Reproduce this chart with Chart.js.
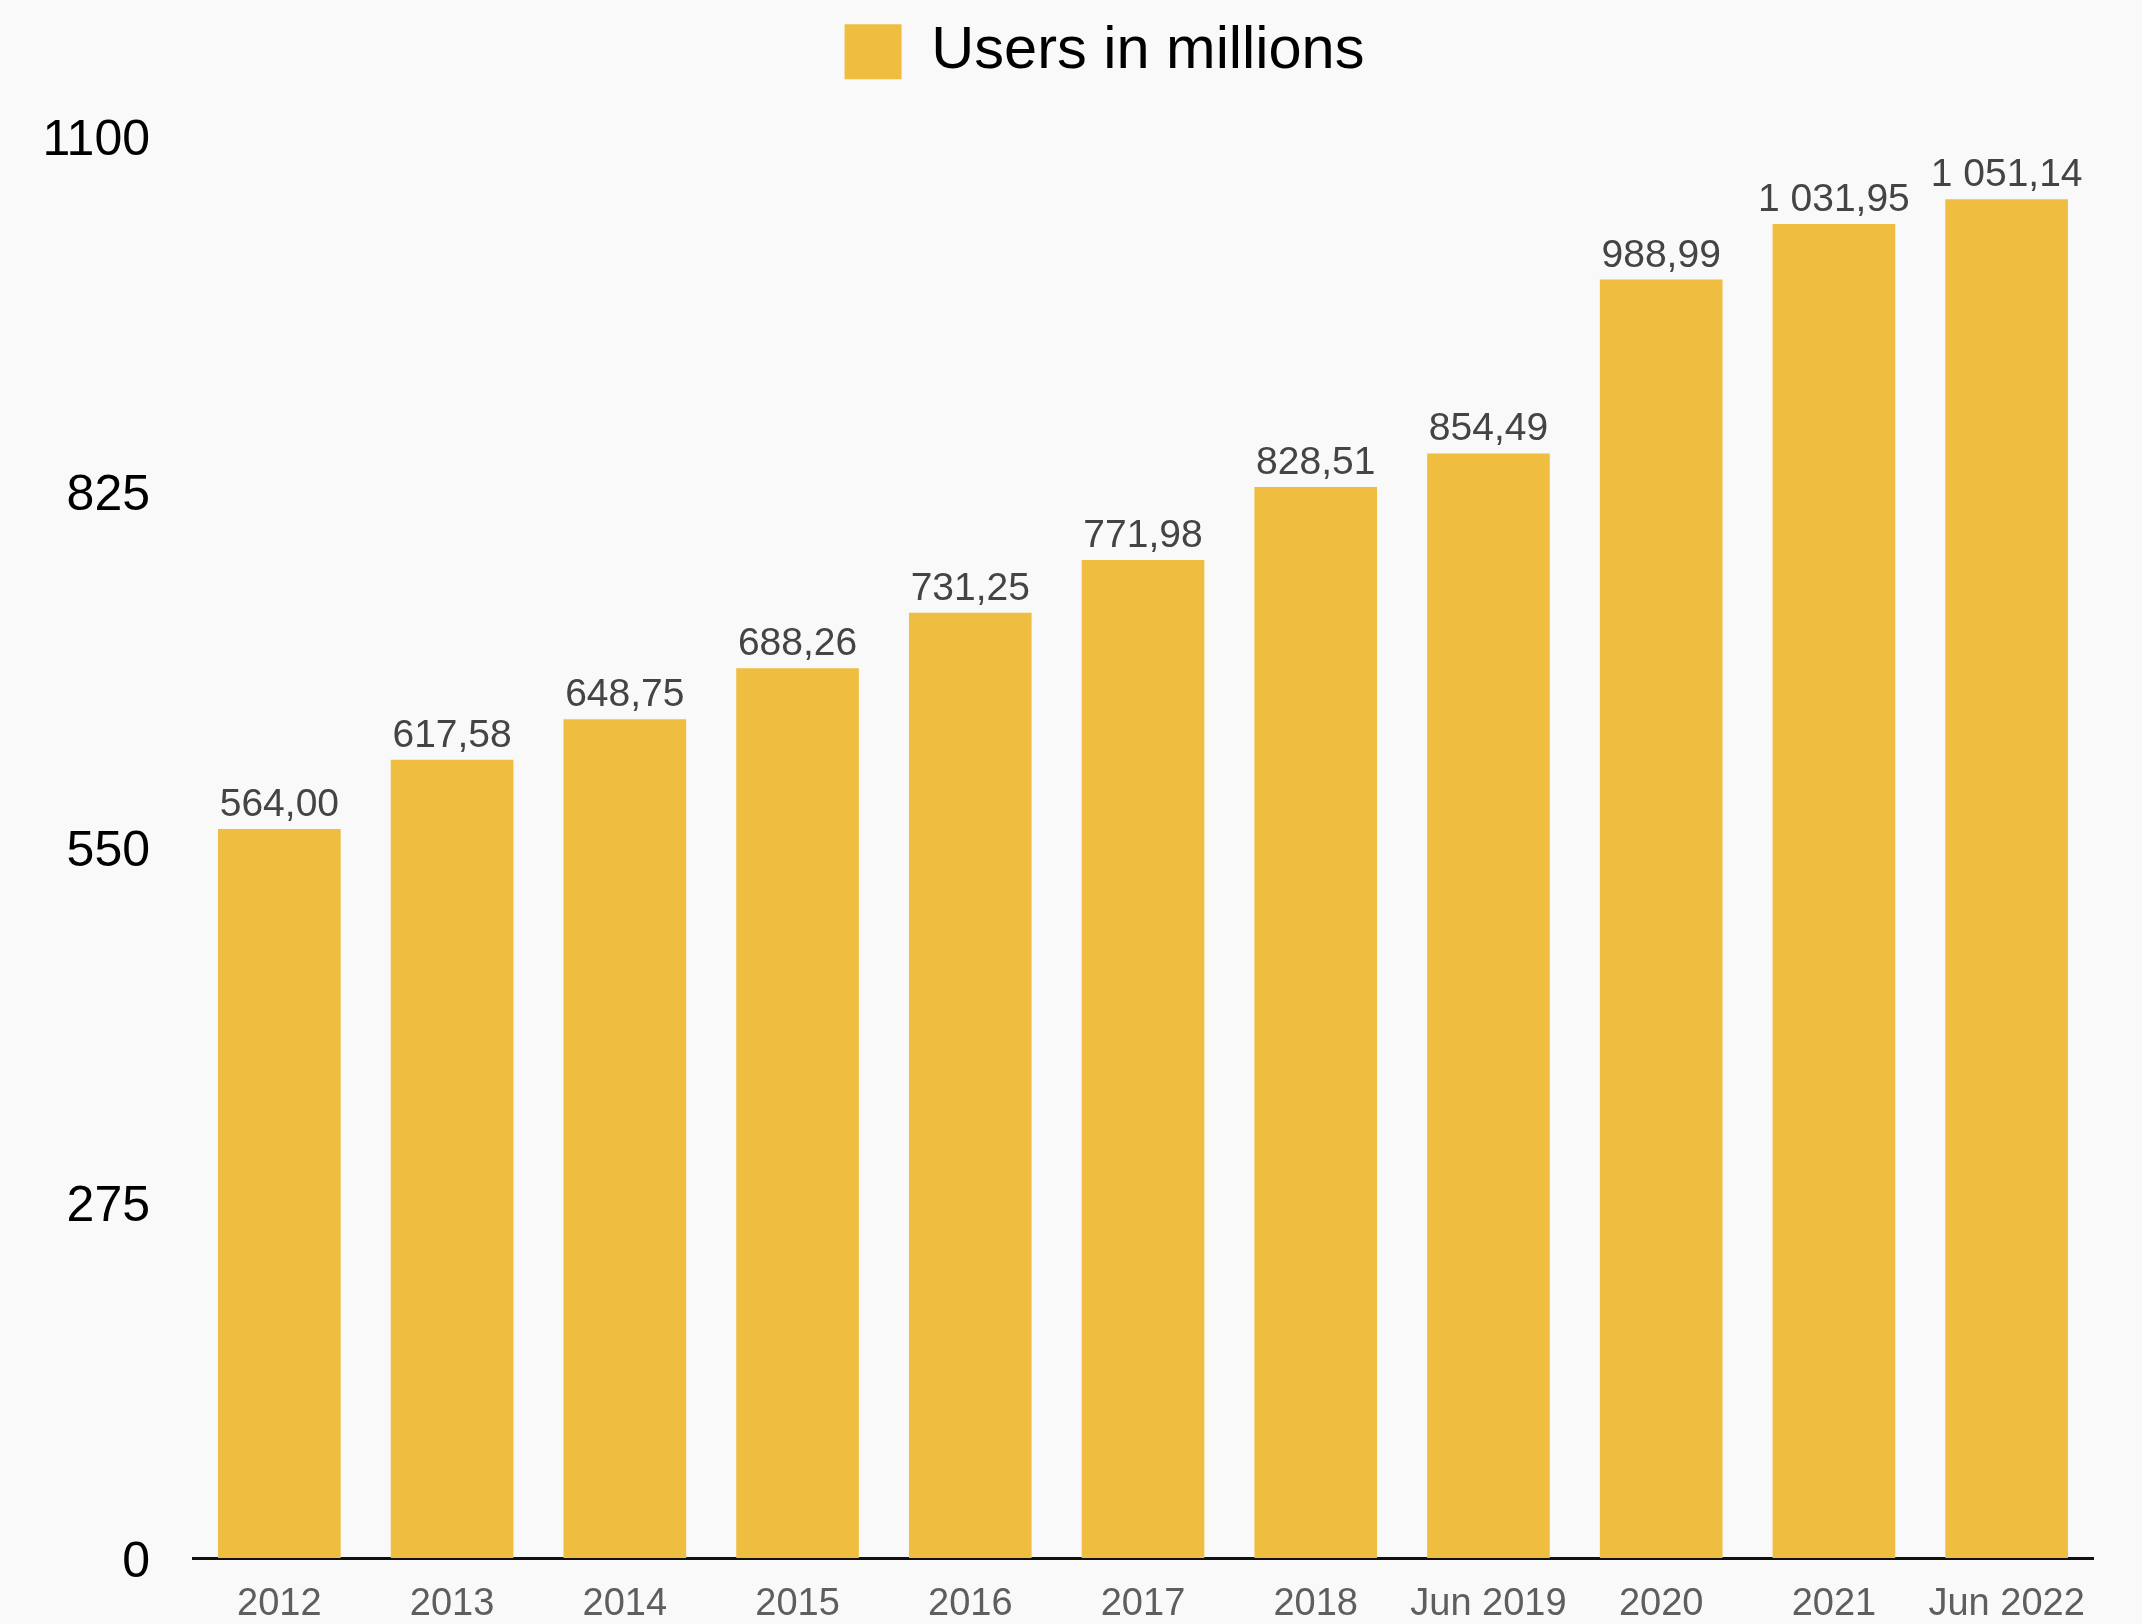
<!DOCTYPE html>
<html>
<head>
<meta charset="utf-8">
<script src="https://cdn.jsdelivr.net/npm/chart.js@4/dist/chart.umd.min.js"></script>
<style>
  html, body { margin: 0; padding: 0; background: #f9f9f9; }
  #wrap { width: 2142px; height: 1624px; }
</style>
</head>
<body>
<div id="wrap"><canvas id="users-chart"></canvas></div>
<script>
const years = ['2012', '2013', '2014', '2015', '2016', '2017', '2018', 'Jun 2019', '2020', '2021', 'Jun 2022'];
const users = [564.00, 617.58, 648.75, 688.26, 731.25, 771.98, 828.51, 854.49, 988.99, 1031.95, 1051.14];
const yTicks = [0, 275, 550, 825, 1100];

const barColor = 'rgb(239, 190, 65)';

// 1031.95 -> "1 031,95"
function formatValue(v) {
    let parts = v.toFixed(2).split('.');
    let whole = parts[0].replace(/\B(?=(\d{3})+(?!\d))/g, ' ');
    return whole + ',' + parts[1];
}

// legend block: fixed height, and nudged right so it sits over the bars
const legendPlace = {
    id: 'legendPlace',
    beforeInit(chart) {
        let fit = chart.legend.fit;
        chart.legend.fit = function () {
            fit.call(this);
            this.height = 136;
        };
    },
    afterLayout(chart) {
        chart.legend.left += 58;
        chart.legend.right += 58;
        chart.legend.top += 2;
    }
};

// value text above each bar
const barValues = {
    id: 'barValues',
    afterDatasetsDraw(chart) {
        let ctx = chart.ctx;
        let meta = chart.getDatasetMeta(0);
        ctx.save();
        ctx.font = '39px "Liberation Sans", Arial, sans-serif';
        ctx.fillStyle = '#444444';
        ctx.textAlign = 'center';
        ctx.textBaseline = 'alphabetic';
        meta.data.forEach((bar, i) => {
            ctx.fillText(formatValue(users[i]), bar.x, bar.y - 13);
        });
        ctx.restore();
    }
};

Chart.defaults.font.family = '"Liberation Sans", Arial, sans-serif';

new Chart(document.querySelector('#users-chart').getContext('2d'), {
    type: 'bar',
    data: {
        labels: years,
        datasets: [{
            label: 'Users in millions',
            backgroundColor: barColor,
            borderWidth: 0,
            data: users,
            categoryPercentage: 1,
            barPercentage: 0.71
        }]
    },
    options: {
        responsive: true,
        maintainAspectRatio: false,
        animation: false,
        layout: { padding: { left: 0, right: 49, top: 0, bottom: 0 } },
        plugins: {
            tooltip: { enabled: false },
            legend: {
                position: 'top',
                labels: {
                    boxWidth: 57,
                    boxHeight: 55,
                    padding: 20,
                    color: '#000000',
                    font: { size: 59.5 }
                }
            }
        },
        scales: {
            x: {
                grid: { display: false, drawTicks: false },
                border: { display: true, color: '#111111', width: 3 },
                ticks: {
                    color: '#5e5e5e',
                    font: { size: 38 },
                    padding: 24,
                    maxRotation: 0,
                    autoSkip: false
                },
                afterFit(scale) { scale.height = 66; }
            },
            y: {
                min: 0,
                max: 1100,
                // no tick marks are drawn, tickLength only spaces the labels off the plot
                grid: { display: false, drawTicks: true, tickLength: 43 },
                border: { display: false },
                afterBuildTicks(scale) {
                    scale.ticks = yTicks.map(v => ({ value: v }));
                },
                ticks: {
                    color: '#000000',
                    font: { size: 50 },
                    padding: 0,
                    labelOffset: 5,
                    callback: value => String(value)
                },
                afterFit(scale) { scale.width = 193; }
            }
        }
    },
    plugins: [legendPlace, barValues]
});
</script>
</body>
</html>
